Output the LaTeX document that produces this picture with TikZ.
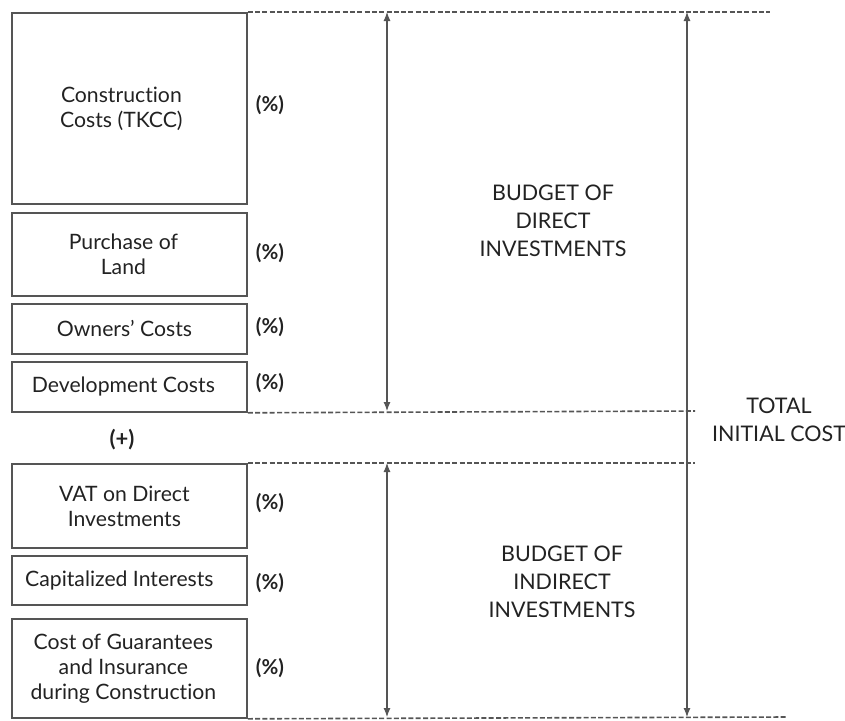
\documentclass[tikz,border=0pt]{standalone}
\usepackage{fontspec}
\setmainfont[Ligatures=NoCommon]{Lato}
\usetikzlibrary{arrows.meta}
\definecolor{ln}{HTML}{555555}
\definecolor{tx}{HTML}{222222}
\begin{document}
\begin{tikzpicture}[x=1pt,y=-1pt,
 box/.style={draw=ln, line width=1.8pt, minimum width=235pt, inner sep=0pt, anchor=north west},
 txt/.style={text=tx, font=\fontsize{21.2}{25}\selectfont, align=center, inner sep=0pt},
 pct/.style={text=tx, font=\fontsize{20.5}{24}\selectfont\bfseries, inner sep=0pt},
 lab/.style={text=tx, font=\fontsize{21.5}{28}\selectfont, align=center, inner sep=0pt},
 guide/.style={draw=ln, line width=1.6pt, dash pattern=on 5pt off 2.3pt},
 dim/.style={draw=ln, line width=1.1pt, {Latex[length=9pt,width=7pt]}-{Latex[length=9pt,width=7pt]}}]
\useasboundingbox (0,0) rectangle (845,720);
% boxes
\node[box, minimum height=191pt] (c1) at (11,12) {};
\node[box, minimum height=83pt] (c2) at (11,212) {};
\node[box, minimum height=50pt] (c3) at (11,303) {};
\node[box, minimum height=50pt] (c4) at (11,361) {};
\node[box, minimum height=84pt] (c5) at (11,463) {};
\node[box, minimum height=49pt] (c6) at (11,555) {};
\node[box, minimum height=99pt] (c7) at (11,618) {};
% box texts
\node[txt] (t1) at ([xshift=-8pt]c1.center) {Construction\\Costs (TKCC)};
\node[txt] (t2) at ([xshift=-6pt]c2.center) {Purchase of\\Land};
\node[txt] (t3) at ([xshift=-5pt]c3.center) {Owners’ Costs};
\node[txt] (t4) at ([xshift=-6pt]c4.center) {Development Costs};
\node[txt] (t5) at ([xshift=-5pt]c5.center) {VAT on Direct\\Investments};
\node[txt] (t6) at ([xshift=-10pt]c6.center) {Capitalized Interests};
\node[txt] (t7) at ([xshift=-6pt]c7.center) {Cost of Guarantees\\and Insurance\\during Construction};
% percentages
\node[pct] (p1) at (270,105) {(\%)};
\node[pct] (p2) at (270,253) {(\%)};
\node[pct] (p3) at (270,327) {(\%)};
\node[pct] (p4) at (270,383) {(\%)};
\node[pct] (p5) at (270,503) {(\%)};
\node[pct] (p6) at (270,583) {(\%)};
\node[pct] (p7) at (270,668) {(\%)};
\node[pct, font=\fontsize{22}{26}\selectfont\bfseries] (plus) at (122,440) {(+)};
% guide lines
\coordinate (g1) at (770,12);
\coordinate (g2) at (695,411);
\coordinate (g3) at (695,463);
\coordinate (g4) at (787,717);
\draw[guide] (c1.north east) -- (g1);
\draw[guide] (c4.south east) -- (g2);
\draw[guide] (c5.north east) -- (g3);
\draw[guide] (c7.south east) -- (g4);
% dimension arrows
\coordinate (d1a) at (387,12);
\coordinate (d1b) at (387,411);
\coordinate (d2a) at (387,463);
\coordinate (d2b) at (387,717);
\coordinate (d3a) at (687,12);
\coordinate (d3b) at (687,717);
\draw[dim] (d1a) -- (d1b);
\draw[dim] (d2a) -- (d2b);
\draw[dim] (d3a) -- (d3b);
% labels
\node[lab] (l1) at (553,221) {BUDGET OF\\DIRECT\\INVESTMENTS};
\node[lab] (l2) at (562,582) {BUDGET OF\\INDIRECT\\INVESTMENTS};
\node[lab] (l3) at (779,420) {TOTAL\\INITIAL COST};
\end{tikzpicture}
\end{document}
